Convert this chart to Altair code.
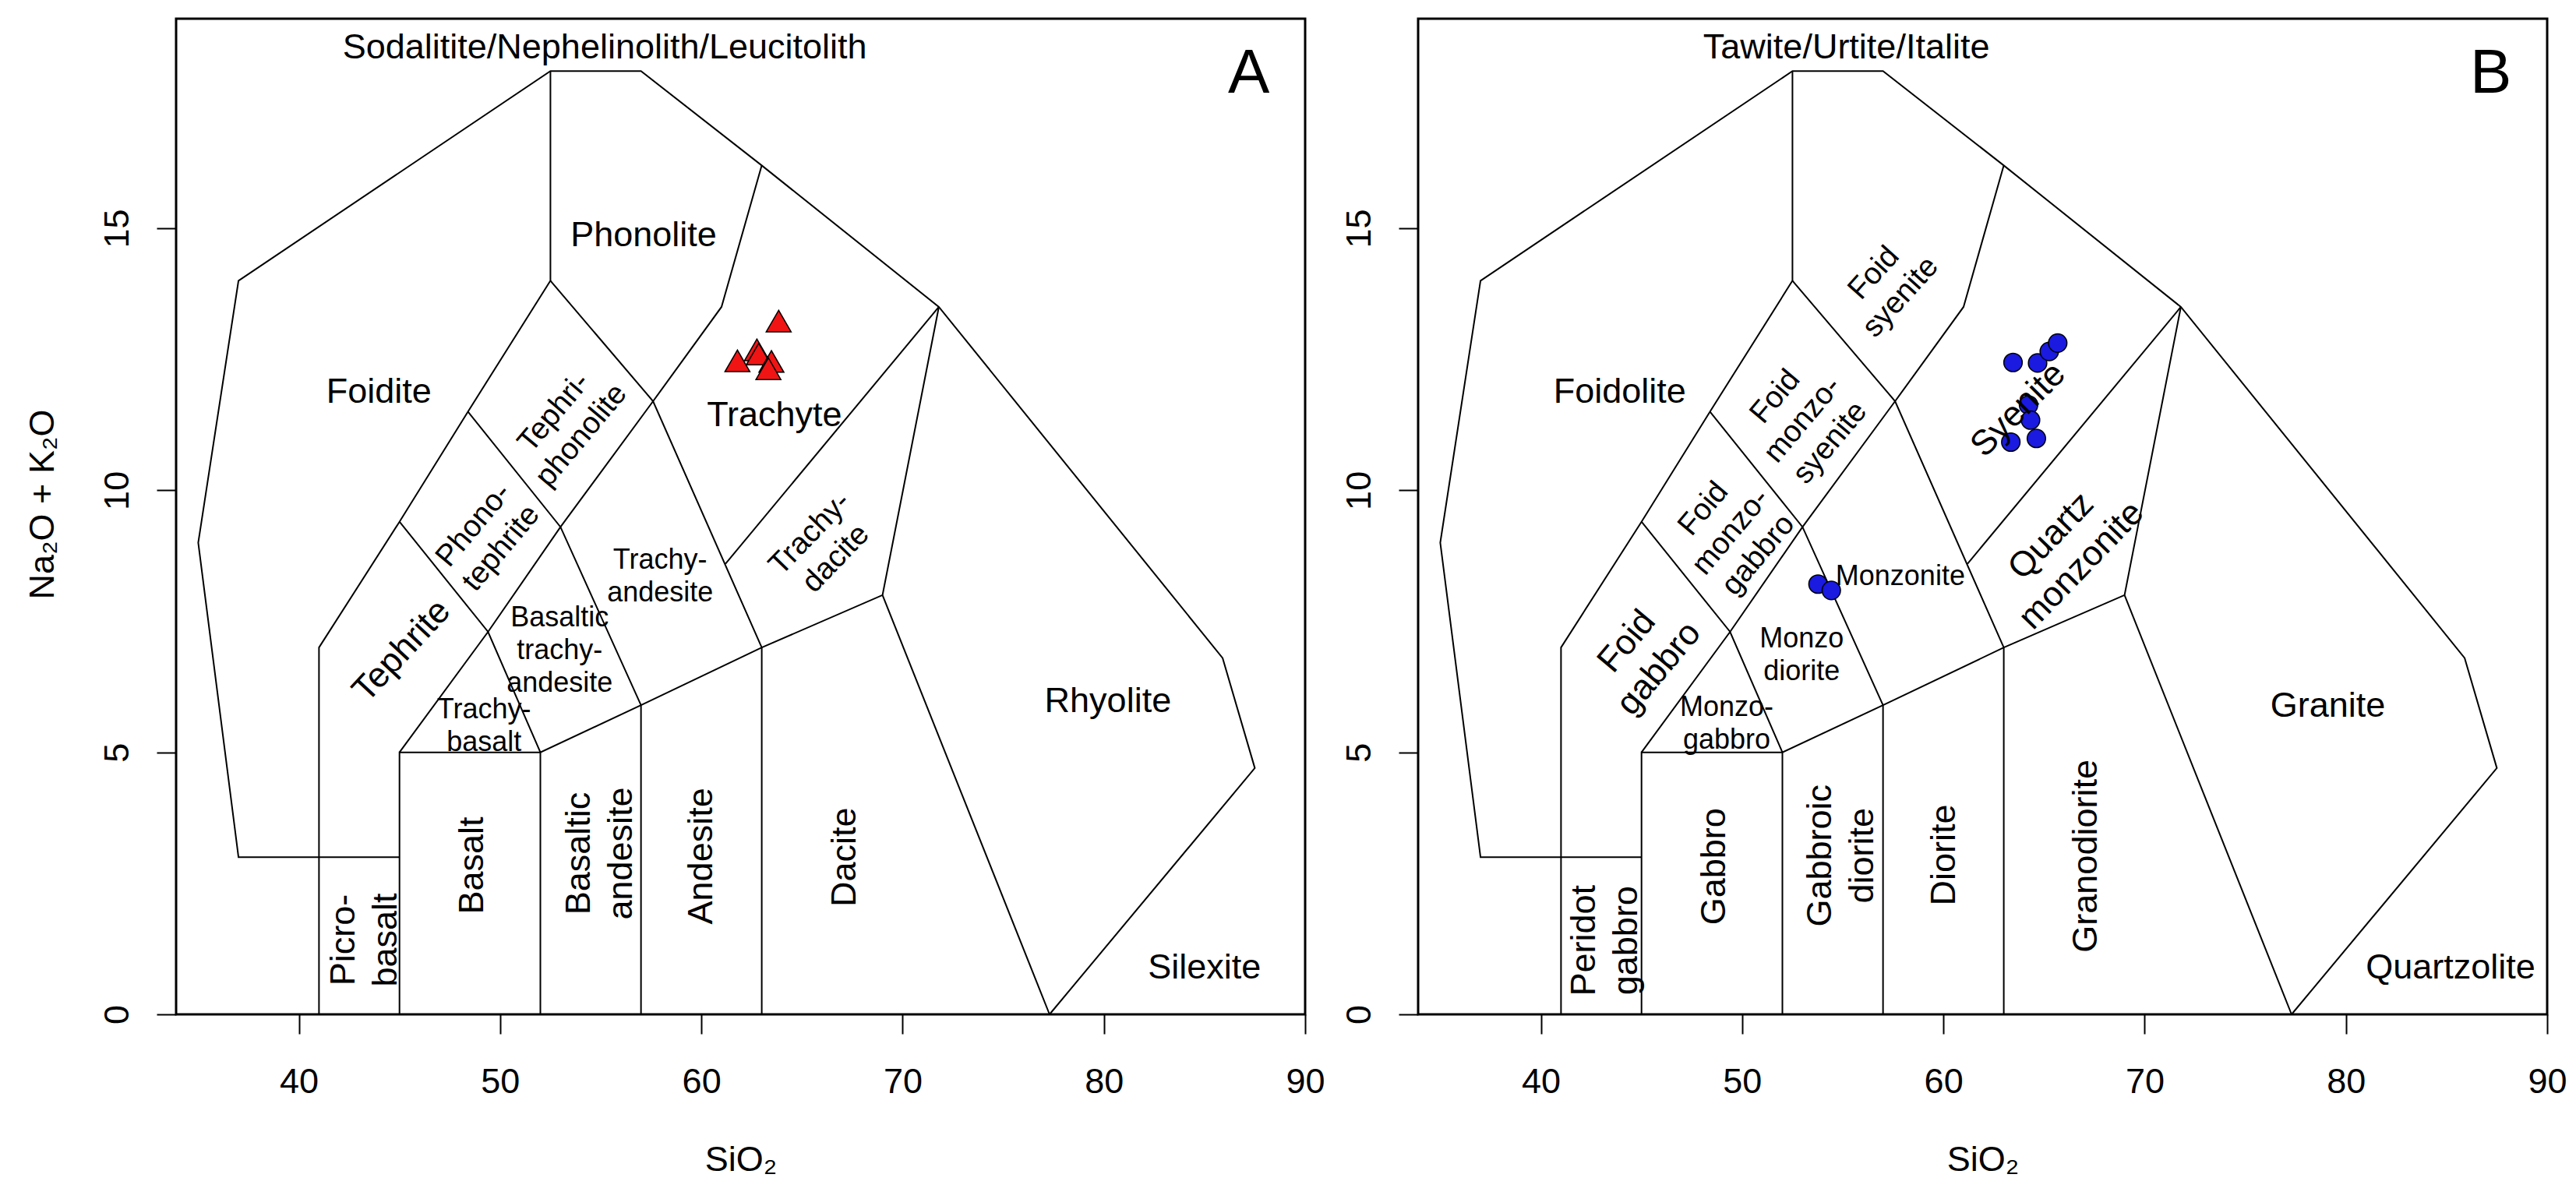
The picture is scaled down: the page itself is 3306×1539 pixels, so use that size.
import math
import altair as alt
import pandas as pd

FONT = "Liberation Sans"

X_DOMAIN = [33.9, 90]
Y_DOMAIN = [0, 19]
X_TICKS = [40, 50, 60, 70, 80, 90]
Y_TICKS = [0, 5, 10, 15]
PLOT_W = 1449
PLOT_H = 1278

# Field boundaries of the TAS diagram (SiO2, Na2O+K2O), one polyline each
bound_outer_x = [45, 37, 35, 37, 52.5, 57, 63, 71.8, 85.9, 87.5, 77.3]
bound_outer_y = [3, 3, 9, 14, 18, 18, 16.2, 13.5, 6.8, 4.7, 0]
bound_b_x = [41, 41, 45, 48.4, 52.5, 52.5]
bound_b_y = [0, 7, 9.4, 11.5, 14, 18]
bound_c_x = [45, 45, 52, 57, 63, 69, 71.8]
bound_c_y = [0, 5, 5, 5.9, 7, 8, 13.5]
bound_d_x = [69, 77.3]
bound_d_y = [8, 0]
bound_e_x = [45, 49.4, 53, 57.6, 61, 63]
bound_e_y = [5, 7.3, 9.3, 11.7, 13.5, 16.2]
bound_f_x = [45, 49.4, 52]
bound_f_y = [9.4, 7.3, 5]
bound_g_x = [48.4, 53, 57]
bound_g_y = [11.5, 9.3, 5.9]
bound_h_x = [52.5, 57.6, 63]
bound_h_y = [14, 11.7, 7]
bound_i_x = [61.2, 71.8]
bound_i_y = [8.6, 13.5]
bound_j_x = [52, 52]
bound_j_y = [0, 5]
bound_k_x = [57, 57]
bound_k_y = [0, 5.9]
bound_l_x = [63, 63]
bound_l_y = [0, 7]

boundaries = {
    "outer": (bound_outer_x, bound_outer_y), "b": (bound_b_x, bound_b_y),
    "c": (bound_c_x, bound_c_y), "d": (bound_d_x, bound_d_y),
    "e": (bound_e_x, bound_e_y), "f": (bound_f_x, bound_f_y),
    "g": (bound_g_x, bound_g_y), "h": (bound_h_x, bound_h_y),
    "i": (bound_i_x, bound_i_y), "j": (bound_j_x, bound_j_y),
    "k": (bound_k_x, bound_k_y), "l": (bound_l_x, bound_l_y),
}

# Samples
tri_x = [63.84, 61.79, 62.76, 62.85, 63.48, 63.33]
tri_y = [13.23, 12.47, 12.68, 12.60, 12.46, 12.32]
circ_x = [63.46, 64.68, 65.26, 65.68, 64.23, 64.33, 64.62, 63.35, 53.77, 54.43]
circ_y = [12.44, 12.43, 12.65, 12.81, 11.63, 11.34, 10.99, 10.92, 8.21, 8.09]

# Field labels (block centres): text, x, y, angle ; grouped by font size
a_big_t = ["Sodalitite/Nephelinolith/Leucitolith", "Foidite", "Phonolite", "Trachyte",
           "Tephrite", "Basalt", "Basaltic\nandesite", "Andesite", "Dacite",
           "Picro-\nbasalt", "Rhyolite", "Silexite"]
a_big_x = [55.2, 43.98, 57.13, 63.63, 45.1, 48.63, 54.96, 60.0, 67.1, 43.28, 80.2, 85.0]
a_big_y = [18.45, 11.88, 14.87, 11.43, 6.94, 2.84, 3.07, 3.02, 3.0, 1.42, 5.97, 0.89]
a_big_a = [0, 0, 0, 0, 313, 270, 270, 270, 270, 270, 0, 0]
a_mid_t = ["Tephri-\nphonolite", "Phono-\ntephrite", "Trachy-\ndacite"]
a_mid_x = [53.35, 49.36, 66.03]
a_mid_y = [11.27, 9.12, 8.94]
a_mid_a = [310, 310, 314]
a_sml_t = ["Trachy-\nandesite", "Basaltic\ntrachy-\nandesite", "Trachy-\nbasalt"]
a_sml_x = [57.95, 52.96, 49.2]
a_sml_y = [8.35, 6.95, 5.5]
a_sml_a = [0, 0, 0]

b_big_t = ["Tawite/Urtite/Italite", "Foidolite", "Syenite", "Quartz\nmonzonite",
           "Foid\ngabbro", "Peridot\ngabbro", "Gabbro", "Gabbroic\ndiorite", "Diorite",
           "Granodiorite", "Granite", "Quartzolite"]
b_big_x = [55.18, 43.92, 63.71, 66.1, 45.06, 43.2, 48.63, 54.93, 60.04, 67.08, 79.1, 85.2]
b_big_y = [18.45, 11.88, 11.54, 8.85, 6.86, 1.41, 2.82, 3.03, 3.04, 3.02, 5.89, 0.89]
b_big_a = [0, 0, 315, 314, 310, 270, 270, 270, 270, 270, 0, 0]
b_mid_t = ["Foid\nsyenite", "Foid\nmonzo-\nsyenite", "Foid\nmonzo-\ngabbro"]
b_mid_x = [57.2, 53.0, 49.43]
b_mid_y = [13.92, 11.35, 9.21]
b_mid_a = [312, 310, 310]
b_sml_t = ["Monzonite", "Monzo\ndiorite", "Monzo-\ngabbro"]
b_sml_x = [57.86, 52.96, 49.23]
b_sml_y = [8.36, 6.85, 5.54]
b_sml_a = [0, 0, 0]

letter_x = [87.2]
letter_y = [17.95]

# ---------------------------------------------------------------
PX_X = PLOT_W / (X_DOMAIN[1] - X_DOMAIN[0])
PX_Y = PLOT_H / (Y_DOMAIN[1] - Y_DOMAIN[0])

rows = []
for name, (xs, ys) in boundaries.items():
    for i, (xv, yv) in enumerate(zip(xs, ys)):
        rows.append({"id": name, "o": i, "x": xv, "y": yv})
df_lines = pd.DataFrame(rows)


def lab_df(t, x, y, a, lh):
    # Vega anchors a multi-line text at its first line: shift the anchor so
    # that the whole block is centred on the given position.
    out = []
    for ti, xi, yi, ai in zip(t, x, y, a):
        n = ti.count("\n") + 1
        s = (n - 1) / 2 * lh
        th = math.radians(ai)
        sx = s * math.sin(th)
        sy = -s * math.cos(th)
        out.append({"t": ti, "x": xi + sx / PX_X, "y": yi - sy / PX_Y, "a": ai})
    return pd.DataFrame(out)


def make_panel(groups, pts, shape, color, size, letter, ytitle):
    x_axis = alt.Axis(values=X_TICKS, domain=False, grid=False, tickSize=25, tickWidth=2,
                      tickColor="black", labelFont=FONT, labelFontSize=45, labelColor="black",
                      labelPadding=39, labelFlush=False, labelOverlap=False,
                      title="SiO₂", titleFont=FONT, titleFontSize=45, titleFontWeight="normal",
                      titleColor="black", titleY=186, titleBaseline="middle")
    yargs = dict(values=Y_TICKS, domain=False, grid=False, tickSize=25, tickWidth=2,
                 tickColor="black", labelFont=FONT, labelFontSize=45, labelColor="black",
                 labelAngle=270, labelAlign="center", labelBaseline="bottom",
                 labelPadding=28, labelFlush=False, labelOverlap=False)
    if ytitle:
        y_axis = alt.Axis(title="Na₂O + K₂O", titleFont=FONT, titleFontSize=45,
                          titleFontWeight="normal", titleColor="black", titleAngle=270,
                          titleX=-172, titleY=623, titleBaseline="middle", titleAlign="center",
                          **yargs)
    else:
        y_axis = alt.Axis(title=None, **yargs)
    xe = alt.X("x:Q", scale=alt.Scale(domain=X_DOMAIN, nice=False, zero=False), axis=x_axis)
    ye = alt.Y("y:Q", scale=alt.Scale(domain=Y_DOMAIN, nice=False, zero=False), axis=y_axis)

    lines = alt.Chart(df_lines).mark_line(color="black", strokeWidth=2).encode(
        x=xe, y=ye, detail="id:N", order="o:Q")
    pts_layer = alt.Chart(pts).mark_point(shape=shape, filled=True, color=color,
                                          stroke="black", strokeWidth=1.5, size=size,
                                          opacity=1).encode(x=xe, y=ye)
    layers = [lines, pts_layer]
    for (t, x, y, a), fs, lh in groups:
        df = lab_df(t, x, y, a, lh)
        layers.append(alt.Chart(df).mark_text(font=FONT, fontSize=fs, lineHeight=lh,
                                              color="black", align="center",
                                              baseline="middle", lineBreak="\n").encode(
            x=xe, y=ye, text="t:N", angle=alt.Angle("a:Q", scale=None)))
    let_df = pd.DataFrame({"x": letter_x, "y": letter_y, "t": [letter]})
    layers.append(alt.Chart(let_df).mark_text(font=FONT, fontSize=80, color="black",
                                              align="center", baseline="middle").encode(
        x=xe, y=ye, text="t:N"))
    return alt.layer(*layers).properties(width=PLOT_W, height=PLOT_H)


panel_a = make_panel(
    [((a_big_t, a_big_x, a_big_y, a_big_a), 45, 54),
     ((a_mid_t, a_mid_x, a_mid_y, a_mid_a), 39, 46),
     ((a_sml_t, a_sml_x, a_sml_y, a_sml_a), 36, 42)],
    pd.DataFrame({"x": tri_x, "y": tri_y}), "triangle-up", "#F01414", 1024, "A", True)

panel_b = make_panel(
    [((b_big_t, b_big_x, b_big_y, b_big_a), 45, 54),
     ((b_mid_t, b_mid_x, b_mid_y, b_mid_a), 39, 46),
     ((b_sml_t, b_sml_x, b_sml_y, b_sml_a), 36, 42)],
    pd.DataFrame({"x": circ_x, "y": circ_y}), "circle", "#1A1AE0", 560, "B", False)

chart = alt.hconcat(panel_a, panel_b, spacing=145, bounds="flush").properties(
    padding={"left": 22, "top": 14, "right": 0, "bottom": 5},
    background="white",
).configure_view(stroke="black", strokeWidth=3)

chart.save("out.html", embed_options={"renderer": "svg", "actions": False})
